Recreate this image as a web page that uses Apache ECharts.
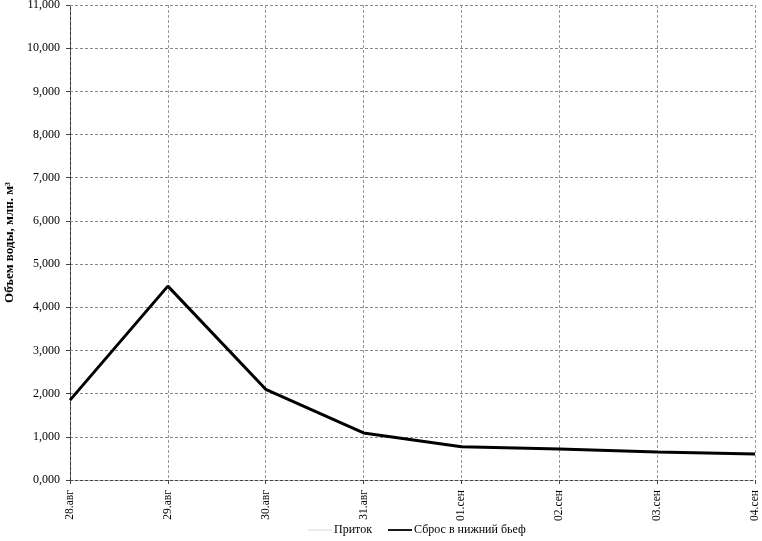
<!DOCTYPE html>
<html><head><meta charset="utf-8">
<script src="https://cdn.jsdelivr.net/npm/echarts@6/dist/echarts.min.js"></script>
<style>html,body{margin:0;padding:0;background:#fff}#c{width:762px;height:541px}</style>
</head><body><div id="c"></div>
<script>
const categories = ['28.авг','29.авг','30.авг','31.авг','01.сен','02.сен','03.сен','04.сен'];
const inflow = [];
const discharge = [1.85, 4.49, 2.10, 1.09, 0.77, 0.72, 0.65, 0.60];
const yTicks = [0,1,2,3,4,5,6,7,8,9,10,11];
const seriesNames = ['Приток','Сброс в нижний бьеф'];
const yName = 'Объем воды, млн. м³';

const font = '"Liberation Serif","DejaVu Serif",serif';
const chart = echarts.init(document.getElementById('c'), null, {renderer:'canvas'});
chart.setOption({
  animation:false,
  backgroundColor:'#fff',
  textStyle:{fontFamily:font},
  grid:{left:70,right:7,top:5,bottom:61,containLabel:false,outerBoundsMode:'none'},
  legend:{
    bottom:0,left:303,itemWidth:24,itemHeight:10,itemGap:16,
    textStyle:{fontFamily:font,fontSize:12,color:'#000',padding:[0,0,0,-3]},
    data:[
      {name:seriesNames[0],icon:'path://M0,4.5L40,4.5L40,5.5L0,5.5Z',itemStyle:{color:'#bbb'}},
      {name:seriesNames[1],icon:'path://M0,3.5L40,3.5L40,6.5L0,6.5Z',itemStyle:{color:'#000'}}
    ]
  },
  xAxis:{
    type:'category',data:categories,boundaryGap:false,
    axisLine:{lineStyle:{color:'#444',type:[3,2],width:1}},
    axisTick:{show:true,alignWithLabel:true,length:4,lineStyle:{color:'#444'}},
    axisLabel:{rotate:90,fontFamily:font,fontSize:11.5,color:'#000',margin:10,interval:0},
    splitLine:{show:true,lineStyle:{color:'#999',type:[3,2],width:1}}
  },
  yAxis:{
    type:'value',min:0,max:11,interval:1,
    name:yName,nameLocation:'middle',nameGap:54,nameRotate:90,
    nameTextStyle:{fontFamily:font,fontSize:13,fontWeight:'bold',color:'#000'},
    axisLine:{show:true,lineStyle:{color:'#333',type:[3,2],width:1}},
    axisTick:{show:true,length:4,lineStyle:{color:'#444'}},
    axisLabel:{fontFamily:font,fontSize:12,color:'#000',margin:10,
      formatter:v=>v.toFixed(3).replace('.',',')},
    splitLine:{show:true,lineStyle:{color:'#888',type:[3,2],width:1}}
  },
  series:[
    {name:seriesNames[0],type:'line',data:inflow,symbol:'none',
      lineStyle:{color:'#bbb',width:1,type:'dotted'},itemStyle:{color:'#bbb'}},
    {name:seriesNames[1],type:'line',data:discharge,symbol:'none',
      lineStyle:{color:'#000',width:3},itemStyle:{color:'#000'}}
  ]
});
</script></body></html>
